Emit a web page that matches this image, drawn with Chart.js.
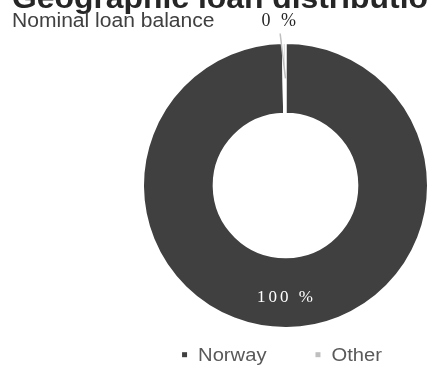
<!DOCTYPE html>
<html>
<head>
<meta charset="utf-8">
<script src="https://cdn.jsdelivr.net/npm/chart.js@4.4.1/dist/chart.umd.min.js"></script>
<style>
  html, body { margin: 0; padding: 0; background: #ffffff; }
  #wrap { width: 428px; height: 366px; position: relative; overflow: hidden; }
</style>
</head>
<body>
<div id="wrap"><canvas id="chart" width="428" height="366"></canvas></div>
<script>
// Loan portfolio split by geography (percent of nominal balance)
const categories = ['Norway', 'Other'];
const shares = [99.7, 0.3];
const sliceColors = ['#404040', '#bfbfbf'];
const titleText = 'Geographic loan distribution';
const subtitleText = 'Nominal loan balance';

const SANS = '"Liberation Sans", Arial, Helvetica, sans-serif';
const SERIF = '"Liberation Serif", "Times New Roman", serif';
const STRETCH = 1.08; // slightly widened sans lettering

function wideText(ctx, text, x, y, font, color, align) {
  ctx.save();
  ctx.font = font;
  ctx.fillStyle = color;
  ctx.textBaseline = 'alphabetic';
  ctx.textAlign = 'left';
  const w = ctx.measureText(text).width * STRETCH;
  let x0 = x;
  if (align === 'center') x0 = x - w / 2;
  else if (align === 'right') x0 = x - w;
  ctx.translate(x0, y);
  ctx.scale(STRETCH, 1);
  ctx.fillText(text, 0, 0);
  ctx.restore();
  return w;
}

function pctText(v) {
  return Math.round(v) + ' %';
}

// Title and subtitle in the top-left corner
const headings = {
  id: 'headings',
  afterDraw(chart) {
    const ctx = chart.ctx;
    wideText(ctx, titleText, 12, 7.5, 'bold 29.5px ' + SANS, '#262626', 'left');
    wideText(ctx, subtitleText, 12, 26.5, '19.5px ' + SANS, '#404040', 'left');
  }
};

// Percentage labels: inside the ring for large slices, above with a leader line for tiny ones
const valueLabels = {
  id: 'valueLabels',
  afterDatasetsDraw(chart) {
    const ctx = chart.ctx;
    const meta = chart.getDatasetMeta(0);
    const values = chart.data.datasets[0].data;
    meta.data.forEach((arc, i) => {
      const p = arc.getProps(['x', 'y', 'startAngle', 'endAngle', 'innerRadius', 'outerRadius'], true);
      const mid = (p.startAngle + p.endAngle) / 2;
      const rMid = (p.innerRadius + p.outerRadius) / 2;
      const mx = p.x + Math.cos(mid) * rMid;
      const my = p.y + Math.sin(mid) * rMid;
      const text = pctText(values[i]);
      ctx.save();
      ctx.font = '17px ' + SERIF;
      ctx.letterSpacing = '3px';
      ctx.textAlign = 'center';
      ctx.textBaseline = 'alphabetic';
      if (values[i] >= 5) {
        ctx.fillStyle = '#ffffff';
        ctx.fillText(text, mx, my + 9);
      } else {
        const ox = p.x + Math.cos(mid) * p.outerRadius;
        const oy = p.y + Math.sin(mid) * p.outerRadius;
        const lx = ox - 4;
        const ly = oy - 17.5;
        ctx.strokeStyle = sliceColors[i];
        ctx.lineWidth = 1.5;
        ctx.beginPath();
        ctx.moveTo(lx, ly + 8);
        ctx.lineTo(mx + 1, my);
        ctx.stroke();
        ctx.font = '18px ' + SERIF;
        ctx.fillStyle = '#262626';
        ctx.fillText(text, lx, ly);
      }
      ctx.restore();
    });
  }
};

// Legend row beneath the ring
const legendRow = {
  id: 'legendRow',
  afterDraw(chart) {
    const ctx = chart.ctx;
    const font = '18.7px ' + SANS;
    const box = 5, boxGap = 11, itemGap = 49;
    ctx.save();
    ctx.font = font;
    const widths = chart.data.labels.map(l => ctx.measureText(l).width * STRETCH);
    ctx.restore();
    let total = 0;
    widths.forEach((w, i) => { total += box + boxGap + w + (i < widths.length - 1 ? itemGap : 0); });
    const cx = (chart.chartArea.left + chart.chartArea.right) / 2 - 3.5;
    let x = cx - total / 2;
    const baseline = 360.7;
    chart.data.labels.forEach((label, i) => {
      ctx.fillStyle = sliceColors[i];
      ctx.fillRect(x, baseline - 8.5, box, box);
      x += box + boxGap;
      wideText(ctx, label, x, baseline, font, '#595959', 'left');
      x += widths[i] + itemGap;
    });
  }
};

new Chart(document.getElementById('chart'), {
  type: 'doughnut',
  data: {
    labels: categories,
    datasets: [{
      data: shares,
      backgroundColor: sliceColors,
      borderColor: '#ffffff',
      borderWidth: 2,
      hoverOffset: 0
    }]
  },
  options: {
    responsive: false,
    animation: false,
    events: [],
    radius: 142.5,
    cutout: '50.4%',
    layout: { padding: { left: 144, right: 1, top: 44, bottom: 39 } },
    plugins: {
      legend: { display: false },
      tooltip: { enabled: false },
      title: { display: false }
    }
  },
  plugins: [valueLabels, headings, legendRow]
});
</script>
</body>
</html>
